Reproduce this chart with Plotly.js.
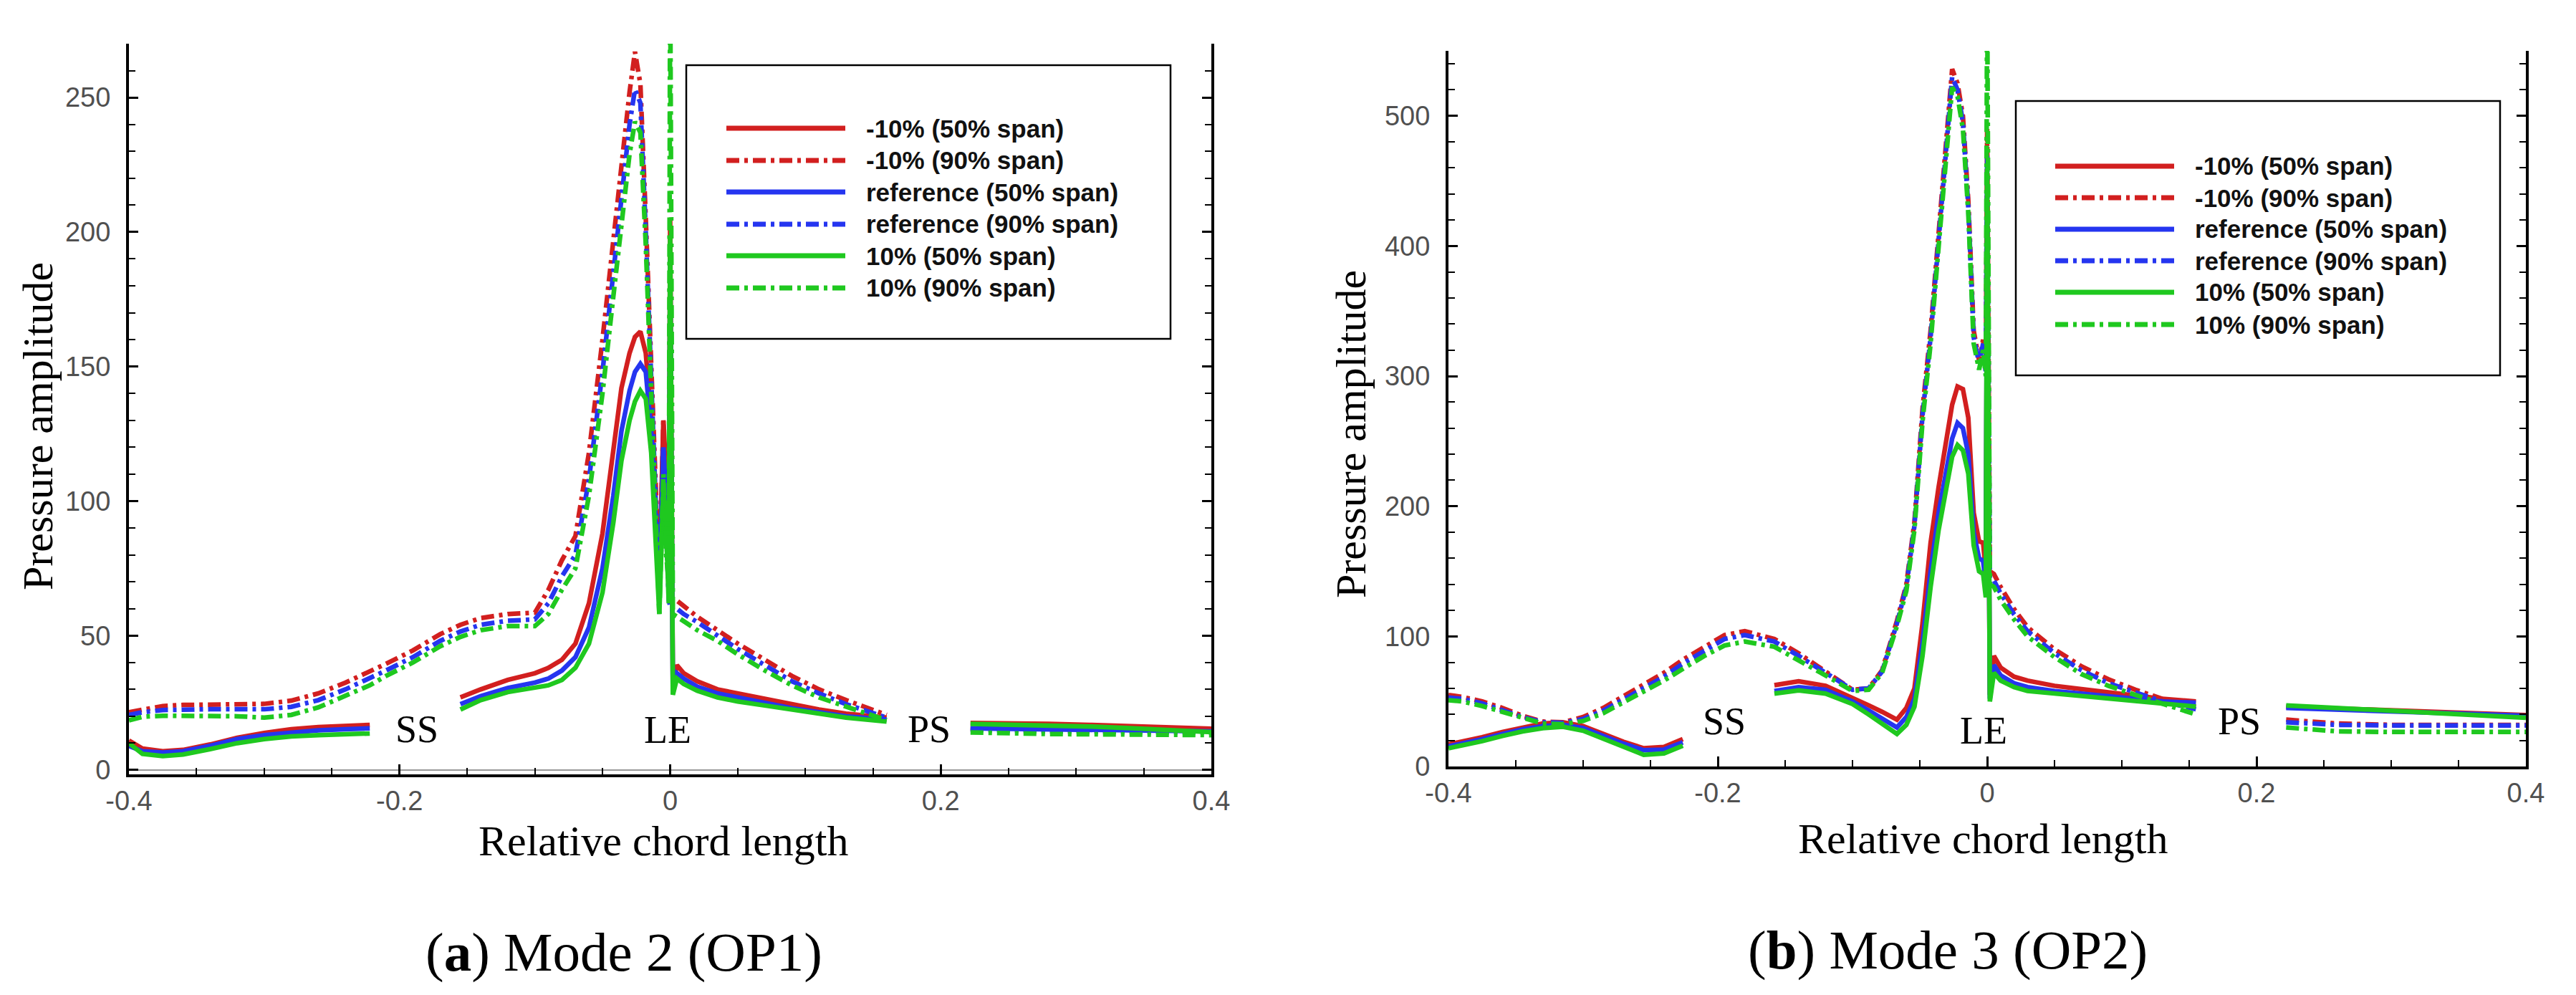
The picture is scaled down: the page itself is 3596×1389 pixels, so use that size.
<!DOCTYPE html>
<html>
<head>
<meta charset="utf-8">
<script src="https://cdn.plot.ly/plotly-3.0.1.min.js"></script>
<style>
  html, body { margin: 0; padding: 0; background: #fff; }
  #chart { width: 3596px; height: 1389px; }
</style>
</head>
<body>
<div id="chart"></div>
<script>
// series names, in the legend order
const seriesNames = ['-10% (50% span)', '-10% (90% span)', 'reference (50% span)',
                     'reference (90% span)', '10% (50% span)', '10% (90% span)'];

// (a) Mode 2 (OP1) - relative chord length
const xA = [-0.4, -0.39, -0.375, -0.36, -0.34, -0.32, -0.30, -0.28, -0.26, -0.24, -0.222,
            -0.21, -0.19, -0.17,
            -0.155, -0.14, -0.12, -0.10, -0.09, -0.08, -0.07, -0.06, -0.05, -0.042, -0.036, -0.03,
            -0.026, -0.022, -0.018, -0.014, -0.011, -0.008, -0.005, -0.003, -0.001, 0.0,
            0.002, 0.005, 0.01, 0.02, 0.035, 0.05, 0.07, 0.09, 0.11, 0.13, 0.16,
            0.19,
            0.222, 0.25, 0.28, 0.31, 0.34, 0.37, 0.4];
const aRedSolid = [11, 8, 7, 7.5, 9.5, 12, 13.8, 15.2, 16, 16.5, 16.8,
                   null, null, null,
                   27, 30, 33.5, 36, 38, 41, 47, 62, 88, 118, 142, 155, 161, 163, 155, 130, 100, 72, 130, 110, 70, 205,
                   32, 39, 36, 33, 30, 28.5, 26.5, 24.5, 22.5, 21, 19.5,
                   null,
                   17.5, 17.5, 17.2, 16.8, 16.3, 15.8, 15.4];
const aRedDash = [21.5, 22.5, 23.8, 24.2, 24.3, 24.4, 24.6, 25.8, 28.5, 32.5, 36.5,
                  39.5, 44.5, 50.5,
                  54, 56.5, 58, 58.5, 67, 78, 87, 118, 160, 197, 225, 252, 267, 255, 205, 150, 110, 70, 130, 90, 66, 64,
                  62, 63, 61, 57, 52, 47, 41, 35, 30, 26, 20.5,
                  null,
                  15.5, 15, 14.8, 14.7, 14.6, 14.5, 14.5];
const aBlueSolid = [9, 7, 6.5, 7, 9, 11.5, 13, 14, 14.8, 15.2, 15.5,
                    null, null, null,
                    24.5, 27.5, 30.5, 32.5, 34, 37, 42, 53, 75, 102, 126, 141, 148, 151, 148, 126, 96, 66, 120, 100, 68, 190,
                    30, 36, 34, 31, 28.5, 27, 25, 23, 21.5, 20, 18.8,
                    null,
                    15.5, 15.3, 15.1, 15, 14.8, 14.6, 14.4];
const aBlueDash = [20.5, 21.5, 22.3, 22.5, 22.6, 22.6, 22.6, 23.5, 26, 30, 34,
                   37, 42, 48,
                   51.5, 54, 55.5, 56, 62, 72, 80, 108, 148, 185, 214, 240, 253, 248, 200, 142, 102, 64, 120, 85, 63, 61,
                   59, 60, 58, 55, 50, 45, 39, 33, 28.5, 24.5, 19.5,
                   null,
                   15, 14.6, 14.3, 14.2, 14.1, 14, 14];
const aGreenSolid = [10, 6, 5.2, 5.8, 7.8, 10, 11.5, 12.5, 13, 13.4, 13.6,
                     null, null, null,
                     22.5, 26, 29, 30.5, 31.5, 33.5, 38, 47, 66, 92, 115, 130, 137, 141, 138, 118, 88, 58, 105, 90, 62, 198,
                     28, 34, 32, 29.5, 27, 25.5, 24, 22.5, 21, 19.5, 18,
                     null,
                     17.2, 17, 16.6, 16.2, 15.6, 14.9, 14.1];
const aGreenDash = [18.5, 19.8, 20.2, 20.2, 20.2, 20, 19.5, 20.5, 23.3, 27.5, 31.5,
                    35, 40, 46,
                    49.5, 52, 53.5, 53.5, 58, 67, 75, 102, 140, 176, 204, 229, 241, 237, 195, 138, 96, 58, 110, 80, 70, 300,
                    58, 57, 55, 52, 48, 43, 37, 31.5, 27, 23.5, 18.5,
                    null,
                    14, 13.6, 13.4, 13.3, 13.2, 13.1, 13];

// (b) Mode 3 (OP2)
const xB = [-0.4, -0.39, -0.375, -0.36, -0.345, -0.33, -0.315, -0.30, -0.285, -0.27, -0.255, -0.24, -0.226,
            -0.21, -0.195, -0.18,
            -0.158, -0.14, -0.12, -0.10, -0.088, -0.078, -0.067, -0.06, -0.054, -0.048, -0.042, -0.036, -0.03,
            -0.026, -0.022, -0.018, -0.014, -0.01, -0.006, -0.003, -0.001, 0.0,
            0.002, 0.005, 0.01, 0.02, 0.03, 0.05, 0.07, 0.09, 0.11, 0.13, 0.155,
            0.19,
            0.222, 0.26, 0.30, 0.34, 0.37, 0.4];
const bRedSolid = [17, 19, 22.5, 26.5, 30, 33, 34, 31, 25, 19, 14, 15, 21,
                   null, null, null,
                   62.5, 65.5, 62, 53, 47, 42, 36, 45, 60, 110, 172, 215, 256, 278, 292, 290, 268, 195, 173, 172, 150, 400,
                   55, 85, 76, 69, 66, 62, 59.5, 57, 54.5, 52, 50,
                   null,
                   46, 44.5, 43, 41.5, 40.5, 39.5];
const bRedDash = [55, 53.5, 50, 45, 39, 34.5, 34, 38, 45, 54, 63, 72, 82,
                  92, 101, 104,
                  98, 87, 73, 59, 60, 74, 112, 140, 188, 275, 335, 410, 490, 536, 525, 500, 435, 335, 312, 328, 305, 490,
                  150, 148, 138, 121, 107, 90, 77, 67, 59, 52, 46,
                  null,
                  36, 33, 32, 32, 32, 32];
const bBlueSolid = [15.5, 17.5, 21, 25, 28.5, 31, 32, 29.5, 23.5, 17.5, 12.5, 13, 18.5,
                    null, null, null,
                    58, 61, 59, 50, 43, 37, 30, 38, 52, 95, 150, 195, 232, 252, 264, 260, 240, 180, 160, 158, 140, 420,
                    52, 78, 70, 64, 61, 58, 56, 54, 52, 50, 49,
                    null,
                    45, 44, 42.5, 41, 40, 39];
const bBlueDash = [53, 52, 48.5, 43.5, 38, 34, 33.5, 36.5, 43, 51.5, 60, 69, 79,
                   89, 98, 101,
                   96, 85, 72, 59, 60, 73, 110, 138, 185, 270, 330, 405, 485, 530, 520, 495, 430, 330, 310, 325, 302, 470,
                   145, 143, 133, 117, 104, 87, 74, 64, 57, 50, 44,
                   null,
                   34, 32, 31.5, 31.5, 31.5, 31.5];
const bGreenSolid = [14, 16, 19.5, 23.5, 27, 29.5, 30.5, 27.5, 21.5, 15, 9, 10, 16,
                     null, null, null,
                     56, 58.5, 56, 48, 40, 33, 25, 32, 46, 85, 138, 182, 218, 238, 247, 243, 225, 170, 150, 148, 130, 460,
                     50, 72, 66, 61, 58, 56, 54, 52, 50, 48, 46,
                     null,
                     47, 45, 43, 41, 39, 37.5];
const bGreenDash = [51, 50, 46.5, 42, 37, 33, 32.5, 35, 41, 49, 57, 66, 75,
                    85, 93, 96,
                    92, 82, 70, 58, 59, 72, 108, 135, 182, 265, 325, 400, 478, 522, 515, 490, 425, 325, 305, 320, 300, 600,
                    140, 138, 128, 113, 100, 84, 71, 62, 55, 48, 40,
                    null,
                    30, 27, 26.5, 26.5, 26.5, 26.5];

// region labels on the blade
const regionText = ['SS', 'LE', 'PS'];
const regionXA = [-0.187, -0.002, 0.1915];
const regionYA = [15.3, 14.8, 15.3];
const regionXB = [-0.195, -0.0024, 0.187];
const regionYB = [34.8, 27.5, 34.8];

// styling
const W = 3596, H = 1389;
const px = (v) => v / W;
const py = (v) => 1 - v / H;
const RED = '#d21f1f', BLUE = '#2535f0', GREEN = '#1fc81f';
const DASHDOT = '18px,7px,5px,7px';
const LINE_W = 6.5;
const seriesColors = [RED, RED, BLUE, BLUE, GREEN, GREEN];
const seriesDash = ['solid', DASHDOT, 'solid', DASHDOT, 'solid', DASHDOT];
const serif = 'Liberation Serif, Times New Roman, serif';
const sans = 'Liberation Sans, Arial, sans-serif';

function panelTraces(x, ys, xa, ya) {
    return ys.map((y, i) => ({
        x: x,
        y: y,
        xaxis: xa,
        yaxis: ya,
        type: 'scatter',
        mode: 'lines',
        name: seriesNames[i],
        showlegend: false,
        connectgaps: false,
        hoverinfo: 'none',
        line: { color: seriesColors[i], width: LINE_W, dash: seriesDash[i] }
    }));
}

var data = panelTraces(xA, [aRedSolid, aRedDash, aBlueSolid, aBlueDash, aGreenSolid, aGreenDash], 'x', 'y')
    .concat(panelTraces(xB, [bRedSolid, bRedDash, bBlueSolid, bBlueDash, bGreenSolid, bGreenDash], 'x2', 'y2'));

const tickFont = { family: sans, size: 38, color: '#505050' };

function xAxis(domain, anchor) {
    return {
        domain: domain, anchor: anchor, range: [-0.4, 0.4],
        tickvals: [-0.4, -0.2, 0, 0.2, 0.4], ticktext: ['-0.4', '-0.2', '0', '0.2', '0.4'],
        ticks: 'inside', ticklen: 14, tickwidth: 3, tickcolor: '#000',
        minor: { tick0: -0.4, dtick: 0.05, ticks: 'inside', ticklen: 9, tickwidth: 2, tickcolor: '#000' },
        showline: true, linewidth: 4, linecolor: '#000', mirror: false,
        showgrid: false, zeroline: false, tickfont: tickFont
    };
}

function yAxis(domain, anchor, range, dtick, minorStep, zero) {
    return {
        domain: domain, anchor: anchor, range: range,
        tick0: 0, dtick: dtick,
        ticks: 'inside', ticklen: 13, tickwidth: 3, tickcolor: '#000',
        minor: { tick0: 0, dtick: minorStep, ticks: 'inside', ticklen: 9, tickwidth: 2, tickcolor: '#000' },
        showline: true, linewidth: 4, linecolor: '#000', mirror: 'ticks',
        showgrid: false, zeroline: zero, zerolinecolor: '#999', zerolinewidth: 2,
        ticklabelstandoff: 14, tickfont: tickFont
    };
}

var annotations = [];
var shapes = [];

function addText(text, x, y, size, opts) {
    annotations.push(Object.assign({
        text: text, xref: 'paper', yref: 'paper', x: px(x), y: py(y),
        xanchor: 'center', yanchor: 'middle', showarrow: false,
        font: { family: serif, size: size, color: '#000' }
    }, opts || {}));
}

// axis titles and captions
addText('Relative chord length', 926, 1174, 60);
addText('Relative chord length', 2768, 1171, 60);
addText('Pressure amplitude', 53, 595, 60, { textangle: -90 });
addText('Pressure amplitude', 1886, 606, 60, { textangle: -90 });
addText('(<b>a</b>) Mode 2 (OP1)', 871, 1329, 77);
addText('(<b>b</b>) Mode 3 (OP2)', 2719, 1326, 77);

// SS / LE / PS labels
regionText.forEach((t, i) => {
    annotations.push({ text: t, xref: 'x', yref: 'y', x: regionXA[i], y: regionYA[i], showarrow: false,
        font: { family: serif, size: 54, color: '#000' } });
    annotations.push({ text: t, xref: 'x2', yref: 'y2', x: regionXB[i], y: regionYB[i], showarrow: false,
        font: { family: serif, size: 54, color: '#000' } });
});

// boxed legends drawn in paper space
function drawLegend(box, lineX0, lineX1, textX, rowsY) {
    shapes.push({ type: 'rect', xref: 'paper', yref: 'paper',
        x0: px(box[0]), x1: px(box[1]), y0: py(box[2]), y1: py(box[3]),
        line: { color: '#000', width: 2.5 }, fillcolor: 'rgba(255,255,255,1)', layer: 'above' });
    rowsY.forEach((ry, i) => {
        shapes.push({ type: 'line', xref: 'paper', yref: 'paper',
            x0: px(lineX0), x1: px(lineX1), y0: py(ry), y1: py(ry), layer: 'above',
            line: { color: seriesColors[i], width: 7, dash: seriesDash[i] } });
        annotations.push({ text: seriesNames[i], xref: 'paper', yref: 'paper', x: px(textX), y: py(ry),
            xanchor: 'left', yanchor: 'middle', showarrow: false,
            font: { family: sans, size: 35, color: '#111', weight: 'bold' } });
    });
}
drawLegend([958, 1634, 91, 473], 1014, 1180, 1207, [179, 224, 268, 313, 357, 402]);
drawLegend([2814, 3490, 141, 524], 2869, 3035, 3062, [232, 276, 320, 364, 408, 453]);

var layout = {
    width: W, height: H,
    margin: { l: 0, r: 0, t: 0, b: 0 },
    paper_bgcolor: '#fff', plot_bgcolor: '#fff',
    showlegend: false,
    xaxis: xAxis([px(180), px(1691)], 'y'),
    yaxis: yAxis([py(1081), py(61)], 'x', [-1.6, 270], 50, 10, true),
    xaxis2: xAxis([px(2022), px(3526)], 'y2'),
    yaxis2: yAxis([py(1070), py(71)], 'x2', [0, 550], 100, 20, false),
    annotations: annotations,
    shapes: shapes
};

Plotly.newPlot('chart', data, layout, { displayModeBar: false, staticPlot: true });
</script>
</body>
</html>
